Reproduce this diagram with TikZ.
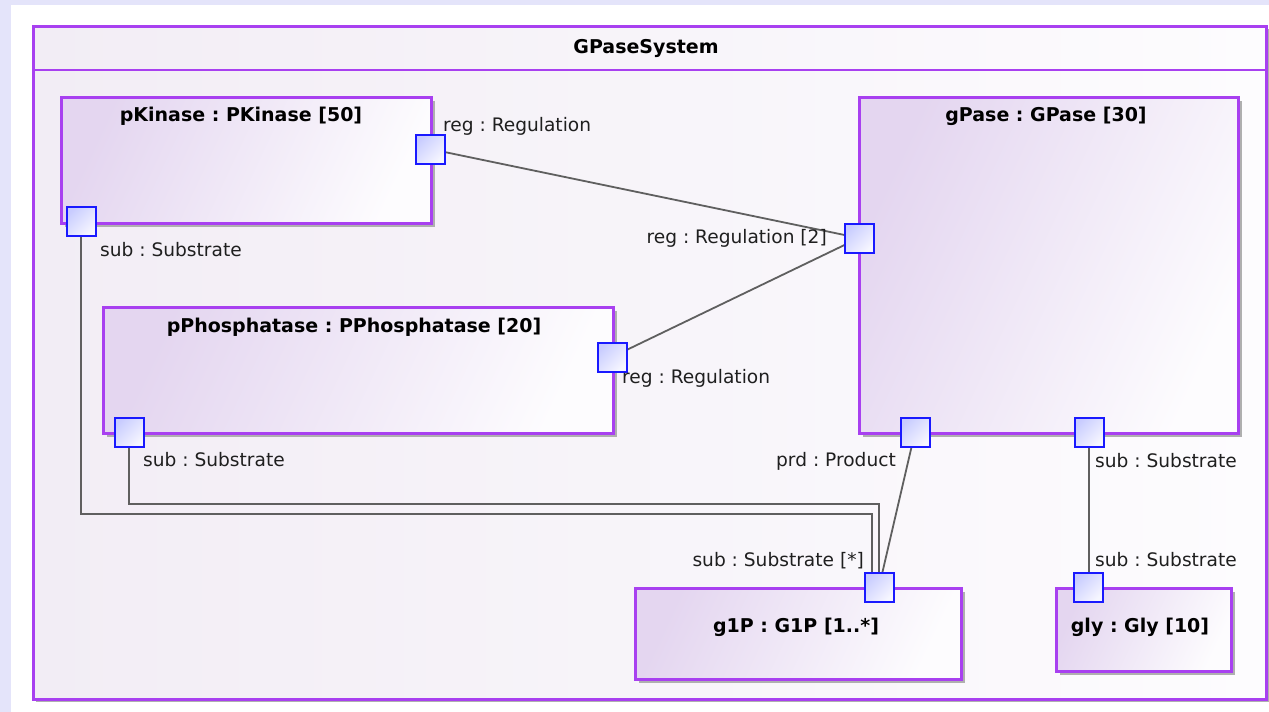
\documentclass[tikz,border=0pt]{standalone}
\usepackage{fontspec}
\setmainfont{DejaVu Sans}
\usetikzlibrary{shadows}
\frenchspacing
\definecolor{bgout}{RGB}{228,228,250}
\definecolor{umlpurple}{RGB}{168,64,240}
\definecolor{boxleft}{RGB}{228,214,240}
\definecolor{boxright}{RGB}{253,252,254}
\definecolor{frameleft}{RGB}{242,237,245}
\definecolor{frameright}{RGB}{253,252,254}
\definecolor{portleft}{RGB}{200,204,255}
\definecolor{portright}{RGB}{246,246,255}
\definecolor{portblue}{RGB}{25,25,255}
\definecolor{connGray}{RGB}{95,95,95}
\definecolor{shadowGray}{RGB}{175,175,175}
\pgfdeclarelayer{bg}
\pgfdeclarelayer{lines}
\pgfsetlayers{bg,lines,main}
\tikzset{
  umlbox/.style={draw=umlpurple, line width=2.6pt, rectangle, inner sep=0pt,
    anchor=north west, top color=boxleft, bottom color=boxright, shading angle=65,
    general shadow={fill=shadowGray, shadow xshift=4pt, shadow yshift=-4pt}},
  framebox/.style={draw=umlpurple, line width=2.6pt, rectangle, inner sep=0pt,
    anchor=north west, left color=frameleft, right color=frameright,
    general shadow={fill=shadowGray, shadow xshift=3pt, shadow yshift=-3pt}},
  port/.style={draw=portblue, line width=2pt, rectangle, inner sep=0pt,
    minimum size=29pt, top color=portleft, bottom color=portright, shading angle=45},
  conn/.style={draw=connGray, line width=1.8pt},
  lbl/.style={font=\fontsize{18.6}{22}\selectfont, inner sep=0pt, text=black!88},
  ttl/.style={font=\fontsize{19}{22}\selectfont\bfseries, inner sep=0pt, anchor=base, text=black}
}
\begin{document}
\begin{tikzpicture}[x=1pt,y=-1pt]
\useasboundingbox (0,0) rectangle (1269,712);
\begin{pgfonlayer}{bg}
\fill[bgout] (0,0) rectangle (1269,712);
\fill[white] (11,5) rectangle (1269,712);
\node[framebox, minimum width=1233, minimum height=673] (sys) at (32,25) {};
\draw[umlpurple, line width=2.6pt] (sys.north west |- 0,70) -- (sys.north east |- 0,70);
\node[ttl] (systitle) at (646,53) {GPaseSystem};
\node[umlbox, minimum width=370, minimum height=126] (pk) at (60,96) {};
\node[umlbox, minimum width=510, minimum height=126] (pp) at (102,306) {};
\node[umlbox, minimum width=379, minimum height=336] (gp) at (858,96) {};
\node[umlbox, minimum width=326, minimum height=91] (g1p) at (634,587) {};
\node[umlbox, minimum width=175, minimum height=83] (gly) at (1055,587) {};
\end{pgfonlayer}
\node[ttl] (pktitle) at (241,121) {pKinase : PKinase [50]};
\node[ttl] (pptitle) at (354,332) {pPhosphatase : PPhosphatase [20]};
\node[ttl] (gptitle) at (1046,121) {gPase : GPase [30]};
\node[ttl] (g1ptitle) at (796,632) {g1P : G1P [1..*]};
\node[ttl] (glytitle) at (1140,632) {gly : Gly [10]};
% ports
\node[port] (pkreg) at (430,149) {};
\node[port] (pksub) at (81,221) {};
\node[port] (ppreg) at (612,357) {};
\node[port] (ppsub) at (129,432) {};
\node[port] (gpreg) at (859,238) {};
\node[port] (gpprd) at (915,432) {};
\node[port] (gpsub) at (1089,432) {};
\node[port] (g1psub) at (879,587) {};
\node[port] (glysub) at (1088,587) {};
% port labels
\node[lbl, anchor=base west] (l1) at (443,131) {reg : Regulation};
\node[lbl, anchor=base west] (l2) at (100,256) {sub : Substrate};
\node[lbl, anchor=base west] (l3) at (622,383) {reg : Regulation};
\node[lbl, anchor=base west] (l4) at (143,466) {sub : Substrate};
\node[lbl, anchor=base east] (l5) at (827,243) {reg : Regulation [2]};
\node[lbl, anchor=base east] (l6) at (896,466) {prd : Product};
\node[lbl, anchor=base west] (l7) at (1095,467) {sub : Substrate};
\node[lbl, anchor=base west] (l8) at (1095,566) {sub : Substrate};
\node[lbl, anchor=base east] (l9) at (864,566) {sub : Substrate [*]};
% connectors
\coordinate (k1) at (872,514);
\coordinate (k2) at (879,504);
\begin{pgfonlayer}{lines}
\draw[conn] (pkreg.center) -- (gpreg.center);
\draw[conn] (ppreg.center) -- (gpreg.center);
\draw[conn] (gpprd.center) -- (g1psub.center);
\draw[conn] (gpsub.center) -- (gpsub.center |- glysub.center);
\draw[conn] (pksub.center) |- (k1) -- (g1psub.center -| k1);
\draw[conn] (ppsub.center) |- (k2) -- (g1psub.center);
\end{pgfonlayer}
\end{tikzpicture}
\end{document}
